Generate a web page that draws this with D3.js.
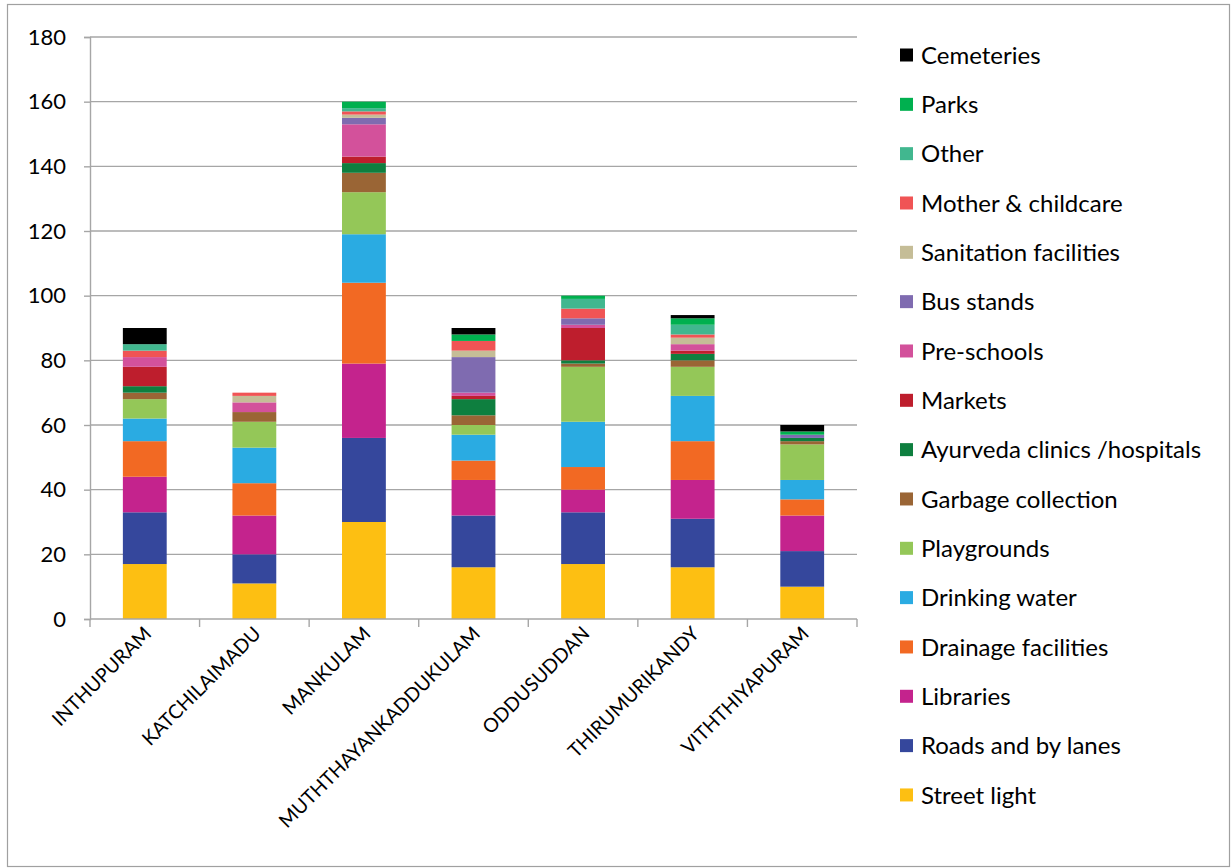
<!DOCTYPE html>
<html>
<head>
<meta charset="utf-8">
<script src="https://cdn.jsdelivr.net/npm/d3@7/dist/d3.min.js"></script>
<style>
  html, body { margin: 0; padding: 0; background: #fff; }
  svg { display: block; font-family: Lato, "Open Sans", sans-serif; }
</style>
</head>
<body>
<svg id="chart" width="1232" height="868"></svg>
<script>
// Villages on the x axis
const categories = ["INTHUPURAM", "KATCHILAIMADU", "MANKULAM", "MUTHTHAYANKADDUKULAM",
                    "ODDUSUDDAN", "THIRUMURIKANDY", "VITHTHIYAPURAM"];

// Stack order, bottom to top
const seriesNames = ["Street light", "Roads and by lanes", "Libraries", "Drainage facilities",
  "Drinking water", "Playgrounds", "Garbage collection", "Ayurveda clinics /hospitals",
  "Markets", "Pre-schools", "Bus stands", "Sanitation facilities", "Mother & childcare",
  "Other", "Parks", "Cemeteries"];

const seriesColors = ["#FDBF12", "#35479C", "#C4238D", "#F26923", "#2AABE2", "#94C758",
  "#9A6535", "#0E7F3F", "#BE1E2D", "#D3519B", "#7F6BB0", "#C5BD97", "#F05455",
  "#41B78F", "#00B04F", "#000000"];

// Counts per village, one array per series (same order as categories)
const streetLight   = [17, 11, 30, 16, 17, 16, 10];
const roads         = [16,  9, 26, 16, 16, 15, 11];
const libraries     = [11, 12, 23, 11,  7, 12, 11];
const drainage      = [11, 10, 25,  6,  7, 12,  5];
const drinkingWater = [ 7, 11, 15,  8, 14, 14,  6];
const playgrounds   = [ 6,  8, 13,  3, 17,  9, 11];
const garbage       = [ 2,  3,  6,  3,  1,  2,  1];
const ayurveda      = [ 2,  0,  3,  5,  1,  2,  1];
const markets       = [ 6,  0,  2,  1, 10,  1,  0];
const preSchools    = [ 3,  3, 10,  1,  1,  2,  0];
const busStands     = [ 0,  0,  2, 11,  2,  0,  1];
const sanitation    = [ 0,  2,  1,  2,  0,  2,  0];
const motherCare    = [ 2,  1,  1,  3,  3,  1,  0];
const other         = [ 2,  0,  1,  0,  3,  3,  0];
const parks         = [ 0,  0,  2,  2,  1,  2,  1];
const cemeteries    = [ 5,  0,  0,  2,  0,  1,  2];

const yTicks = [0, 20, 40, 60, 80, 100, 120, 140, 160, 180];

const seriesValues = [streetLight, roads, libraries, drainage, drinkingWater, playgrounds,
  garbage, ayurveda, markets, preSchools, busStands, sanitation, motherCare, other,
  parks, cemeteries];

// Build the table for d3.stack
const table = categories.map((c, i) => {
  const row = { village: c };
  seriesNames.forEach((s, k) => { row[s] = seriesValues[k][i]; });
  return row;
});

const svg = d3.select("#chart");
const axisColor = "#A6A6A6";

// Outer frame
svg.append("rect")
  .attr("x", 7.5).attr("y", 4.5)
  .attr("width", 1222).attr("height", 862)
  .attr("fill", "none").attr("stroke", "#A0A0A0").attr("stroke-width", 1.2);

const plot = { left: 90, right: 857, top: 37, bottom: 619 };

const x = d3.scaleBand().domain(categories)
  .range([plot.left, plot.right]).paddingInner(0.6).paddingOuter(0.3);
const y = d3.scaleLinear().domain([0, 180]).range([plot.bottom, plot.top]);

// Horizontal gridlines
svg.append("g").selectAll("line").data(yTicks.filter(t => t > 0)).join("line")
  .attr("x1", plot.left).attr("x2", plot.right)
  .attr("y1", d => y(d)).attr("y2", d => y(d))
  .attr("stroke", axisColor).attr("stroke-width", 1.4);

// Y axis
const yAxis = svg.append("g")
  .attr("transform", `translate(${plot.left},0)`)
  .call(d3.axisLeft(y).tickValues(yTicks).tickSize(6).tickPadding(18));
yAxis.select(".domain").attr("stroke", axisColor).attr("stroke-width", 1.4);
yAxis.selectAll(".tick line").attr("stroke", axisColor).attr("stroke-width", 1.4);
yAxis.selectAll(".tick text")
  .attr("font-size", 22).attr("fill", "#000")
  .style("font-family", "Lato, 'Open Sans', sans-serif");

// Stacked bars
const stacked = d3.stack().keys(seriesNames)(table);
svg.append("g").selectAll("g").data(stacked).join("g")
  .attr("fill", (d, i) => seriesColors[i])
  .selectAll("rect").data(d => d).join("rect")
  .attr("x", d => x(d.data.village))
  .attr("width", x.bandwidth())
  .attr("y", d => y(d[1]))
  .attr("height", d => y(d[0]) - y(d[1]));

// X axis with ticks on the category boundaries
const xAxisG = svg.append("g").attr("transform", `translate(0,${plot.bottom})`);
xAxisG.append("line")
  .attr("x1", plot.left).attr("x2", plot.right)
  .attr("stroke", axisColor).attr("stroke-width", 1.4);
const step = x.step();
const boundaries = d3.range(categories.length + 1).map(i => plot.left + i * step);
xAxisG.selectAll(".xtick").data(boundaries).join("line")
  .attr("class", "xtick")
  .attr("x1", d => d).attr("x2", d => d)
  .attr("y1", 0).attr("y2", 8)
  .attr("stroke", axisColor).attr("stroke-width", 1.4);
xAxisG.selectAll(".xlabel").data(categories).join("text")
  .attr("class", "xlabel")
  .attr("transform", d => `translate(${x(d) + x.bandwidth() / 2 + 3},${11}) rotate(-45)`)
  .attr("text-anchor", "end")
  .attr("dy", "0.35em")
  .attr("font-size", 19.5)
  .attr("fill", "#000")
  .text(d => d);

// Legend, top entry is the top of the stack
const legendOrder = seriesNames.map((s, i) => ({ name: s, color: seriesColors[i] })).reverse();
const legend = svg.append("g").selectAll("g").data(legendOrder).join("g")
  .attr("transform", (d, i) => `translate(900,${55 + i * 49.33})`);
legend.append("rect")
  .attr("x", 0).attr("y", -6.5).attr("width", 13).attr("height", 13)
  .attr("fill", d => d.color);
legend.append("text")
  .attr("x", 21).attr("dy", "0.36em")
  .attr("font-size", 24).attr("fill", "#000")
  .text(d => d.name);
</script>
</body>
</html>
